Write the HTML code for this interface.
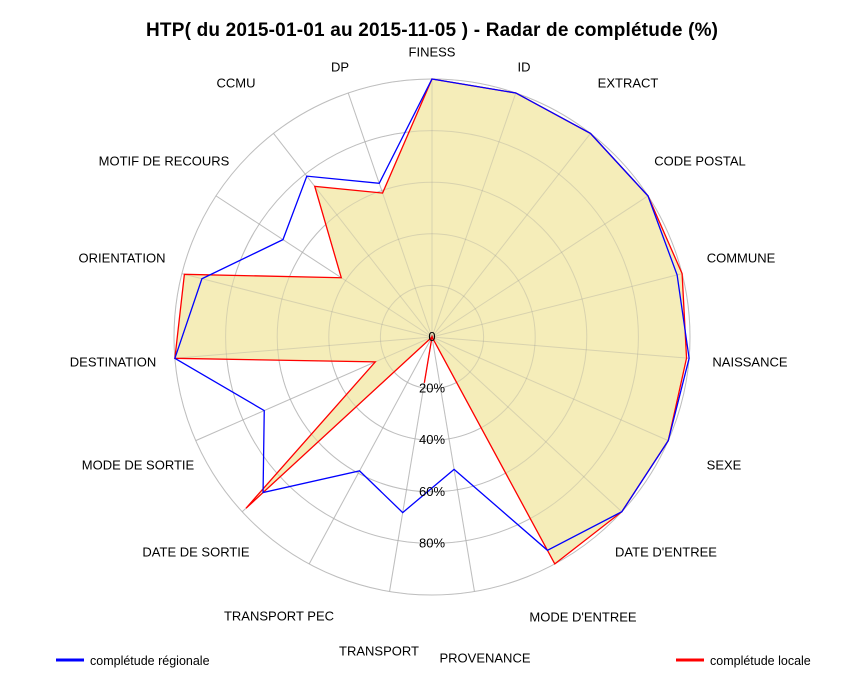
<!DOCTYPE html>
<html><head><meta charset="utf-8"><style>
body{margin:0;background:#fff}
svg text{font-family:"Liberation Sans",sans-serif}
</style></head><body>
<svg id="c" width="864" height="672" viewBox="0 0 864 672" xmlns="http://www.w3.org/2000/svg">
<text x="432" y="36" text-anchor="middle" font-size="19" font-weight="bold" textLength="572">HTP( du 2015-01-01 au 2015-11-05 ) - Radar de complétude (%)</text>
<g id="grid"></g><g id="fill"></g><g id="grid2"></g><g id="lines"></g><g id="labels"></g>
<g>
<line x1="56" y1="660" x2="84" y2="660" stroke="#00f" stroke-width="3"/>
<text x="90" y="665" font-size="12.5">complétude régionale</text>
<line x1="676" y1="660" x2="704" y2="660" stroke="#f00" stroke-width="3"/>
<text x="710" y="665" font-size="12.5">complétude locale</text>
</g>
</svg>
<script>
const categories=["FINESS","ID","EXTRACT","CODE POSTAL","COMMUNE","NAISSANCE","SEXE","DATE D'ENTREE","MODE D'ENTREE","PROVENANCE","TRANSPORT","TRANSPORT PEC","DATE DE SORTIE","MODE DE SORTIE","DESTINATION","ORIENTATION","MOTIF DE RECOURS","CCMU","DP"];
const regional=[100,100,100,100,98,100,100,100,94,52,69,59,89,71,100,92,69,79,63];
const local=[100,100,100,100,100,99,100,100,100,0,18,0,98,24,100,99,42,74,59];
const ringTicks=[0,20,40,60,80];
const ringLabels=["0","20%","40%","60%","80%"];
const labelPos=[[432,52],[524,67],[628,83],[700,161],[741,258],[750,362],[724,465],[666,552],[583,617],[485,658],[379,651],[279,616],[196,552],[138,465],[113,362],[122,258],[164,161],[236,83],[340,67]];
const cx=432,cy=337,R=258,NS="http://www.w3.org/2000/svg";
const rs=v=>v/100*R;
function pt(i,v){const a=i*2*Math.PI/categories.length;return [cx+rs(v)*Math.sin(a),cy-rs(v)*Math.cos(a)];}
function mk(t,at,p){const e=document.createElementNS(NS,t);for(const k in at)e.setAttribute(k,at[k]);p.appendChild(e);return e;}
const grid=document.getElementById('grid'),grid2=document.getElementById('grid2');
[grid,grid2].forEach((g,gi)=>{
 [20,40,60,80,100].forEach(v=>{const c=mk('circle',{cx:cx,cy:cy,r:rs(v),fill:'none',stroke:gi?'rgba(150,150,150,0.3)':'#d0d0d0'},g);
 
 });
 categories.forEach((n,i)=>{const p=pt(i,100);const l=mk('line',{x1:cx,y1:cy,x2:p[0],y2:p[1],stroke:gi?'rgba(150,150,150,0.3)':'#d0d0d0'},g);
 
 });
});
const poly=(d)=>d.map((v,i)=>pt(i,v).join(',')).join(' ');
const f=mk('polygon',{points:poly(local),fill:'#f5edb9',stroke:'none'},document.getElementById('fill'));


const L=document.getElementById('lines');
const lr=mk('polygon',{points:poly(local),fill:'none',stroke:'#f00','stroke-width':1.3},L);


const lb=mk('polygon',{points:poly(regional),fill:'none',stroke:'#00f','stroke-width':1.3},L);


const LB=document.getElementById('labels');
ringTicks.forEach((v,i)=>{const t=mk('text',{x:cx,y:cy+rs(v)+4,'text-anchor':'middle','font-size':13},LB);t.textContent=ringLabels[i];

});
categories.forEach((n,i)=>{const t=mk('text',{x:labelPos[i][0],y:labelPos[i][1]+4.5,'text-anchor':'middle','font-size':13},LB);t.textContent=n;

});
</script>
</body></html>
